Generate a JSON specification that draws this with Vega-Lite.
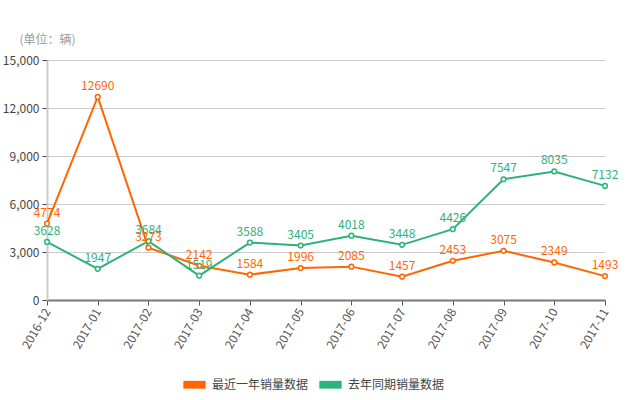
{
  "$schema": "https://vega.github.io/schema/vega-lite/v6.json",
  "width": 558,
  "height": 240,
  "autosize": {"type": "none"},
  "padding": {"left": 47, "top": 60, "right": 25, "bottom": 100},
  "config": {
    "font": "Noto Sans CJK SC",
    "view": {"stroke": null}
  },
  "data": {
    "values": [
      {"month": "2016-12", "series": "最近一年销量数据", "value": 4774},
      {"month": "2017-01", "series": "最近一年销量数据", "value": 12690},
      {"month": "2017-02", "series": "最近一年销量数据", "value": 3273},
      {"month": "2017-03", "series": "最近一年销量数据", "value": 2142},
      {"month": "2017-04", "series": "最近一年销量数据", "value": 1584},
      {"month": "2017-05", "series": "最近一年销量数据", "value": 1996},
      {"month": "2017-06", "series": "最近一年销量数据", "value": 2085},
      {"month": "2017-07", "series": "最近一年销量数据", "value": 1457},
      {"month": "2017-08", "series": "最近一年销量数据", "value": 2453},
      {"month": "2017-09", "series": "最近一年销量数据", "value": 3075},
      {"month": "2017-10", "series": "最近一年销量数据", "value": 2349},
      {"month": "2017-11", "series": "最近一年销量数据", "value": 1493},
      {"month": "2016-12", "series": "去年同期销量数据", "value": 3628},
      {"month": "2017-01", "series": "去年同期销量数据", "value": 1947},
      {"month": "2017-02", "series": "去年同期销量数据", "value": 3684},
      {"month": "2017-03", "series": "去年同期销量数据", "value": 1519},
      {"month": "2017-04", "series": "去年同期销量数据", "value": 3588},
      {"month": "2017-05", "series": "去年同期销量数据", "value": 3405},
      {"month": "2017-06", "series": "去年同期销量数据", "value": 4018},
      {"month": "2017-07", "series": "去年同期销量数据", "value": 3448},
      {"month": "2017-08", "series": "去年同期销量数据", "value": 4426},
      {"month": "2017-09", "series": "去年同期销量数据", "value": 7547},
      {"month": "2017-10", "series": "去年同期销量数据", "value": 8035},
      {"month": "2017-11", "series": "去年同期销量数据", "value": 7132}
    ]
  },
  "encoding": {
    "x": {
      "field": "month",
      "type": "ordinal",
      "scale": {"type": "point", "padding": 0},
      "axis": {
        "title": null,
        "labelAngle": -60,
        "labelAlign": "right",
        "labelBaseline": "middle",
        "labelFontSize": 12,
        "labelColor": "#555",
        "labelPadding": 4,
        "domainColor": "#777",
        "domainWidth": 2,
        "tickColor": "#555",
        "tickSize": 5,
        "grid": false
      }
    },
    "y": {
      "field": "value",
      "type": "quantitative",
      "scale": {"domain": [0, 15000]},
      "axis": {
        "values": [0, 3000, 6000, 9000, 12000, 15000],
        "format": ",.0f",
        "title": "(单位：辆)",
        "titleAngle": 0,
        "titleAlign": "left",
        "titleBaseline": "middle",
        "titleX": -28,
        "titleY": -21,
        "titleFontSize": 12,
        "titleFontWeight": "normal",
        "titleColor": "#999",
        "labelFontSize": 12,
        "labelColor": "#444",
        "labelPadding": 3,
        "domainColor": "#ccc",
        "domainWidth": 2,
        "tickColor": "#444",
        "tickSize": 5,
        "gridColor": "#ccc",
        "gridWidth": 1
      }
    },
    "color": {
      "field": "series",
      "type": "nominal",
      "scale": {
        "domain": ["最近一年销量数据", "去年同期销量数据"],
        "range": ["#ff6600", "#2eb27c"]
      },
      "legend": {
        "title": null,
        "orient": "none",
        "legendX": 136,
        "legendY": 313,
        "direction": "horizontal",
        "symbolType": "M-1,-0.35H1V0.35H-1Z",
        "symbolSize": 500,
        "symbolStrokeWidth": 0,
        "labelFontSize": 12,
        "labelColor": "#444",
        "columnPadding": 10,
        "labelOffset": 6
      }
    }
  },
  "layer": [
    {"mark": {"type": "line", "strokeWidth": 2}},
    {"mark": {"type": "point", "filled": false, "fill": "white", "size": 22, "strokeWidth": 1.5, "opacity": 1}},
    {
      "mark": {"type": "text", "dy": -11, "fontSize": 12},
      "encoding": {"text": {"field": "value", "type": "quantitative", "format": "d"}}
    }
  ]
}
